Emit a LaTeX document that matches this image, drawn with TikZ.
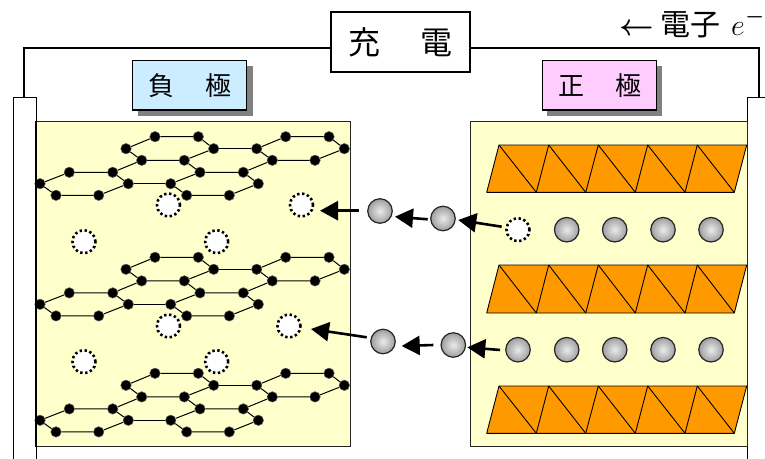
\documentclass[tikz,border=0pt]{standalone}
\usepackage{fix-cm}
\usepackage{fontspec}
\usetikzlibrary{arrows.meta,calc}
\newfontfamily\cjk{Noto Sans CJK JP}
\pgfdeclareradialshading{ballshade}{\pgfpoint{0bp}{0bp}}{%
  color(0bp)=(white!92!black);
  color(25bp)=(black!38);
  color(50bp)=(black!38)}
\tikzset{
  wire/.style={line width=1.3pt,draw=black},
  plate/.style={draw=black,line width=1.2pt,fill=white,rectangle,inner sep=0pt,anchor=north west,minimum width=#1,minimum height=380pt},
  cellbox/.style={draw=black!85,line width=1.4pt,rectangle,inner sep=0pt,anchor=north west,minimum height=325pt,minimum width=#1},
  labelbox/.style={draw=black,line width=1.2pt,fill=#1,rectangle,inner sep=0pt,minimum width=114pt,minimum height=49.5pt,font=\cjk\fontsize{26}{26}\selectfont},
  shadowbox/.style={fill=black!50,rectangle,inner sep=0pt,minimum width=115pt,minimum height=50pt},
  atom/.style={circle,fill=black,draw=black!60,line width=.5pt,inner sep=0pt,minimum size=10.5pt},
  bond/.style={line width=1pt,draw=black},
  hole/.style={circle,fill=white,draw=black,line width=2.6pt,dash pattern=on 2.4pt off 2.6pt,inner sep=0pt,minimum size=23pt},
  ball/.style={circle,shading=ballshade,draw=black!85,line width=1.2pt,inner sep=0pt,minimum size=24.5pt},
  flow/.style={line width=2.6pt,draw=black,-{Triangle[length=18pt,width=19pt]}},
  sheetline/.style={line width=.9pt,draw=black,line join=round},
}
\definecolor{oxide}{HTML}{FF9900}
\definecolor{cellyellow}{HTML}{FFFFCC}
\definecolor{negblue}{HTML}{CCECFF}
\definecolor{pospink}{HTML}{FFCCFF}
\begin{document}
\begin{tikzpicture}[x=1pt,y=-1pt]
\useasboundingbox (0,0) rectangle (765,458);
\clip (0,0) rectangle (765,458);
% plates
\node[plate=23.5pt] (plateL) at (12.5,97) {};
\node[plate=30pt] (plateR) at (747,97) {};
% cell boxes
\node[cellbox=313.5pt,fill=cellyellow] (cellL) at (36,121) {};
\node[cellbox=277pt,fill=cellyellow] (cellR) at (470,121) {};
% charger
\node[draw=black,line width=1.2pt,fill=white,rectangle,inner sep=0pt,minimum width=139pt,minimum height=60pt,font=\cjk\fontsize{32}{32}\selectfont] (charger) at (400.5,42) {充　\kern9pt電};
\coordinate (wireL) at (24,97);
\coordinate (wireR) at (759,97);
\draw[wire] (charger.west |- 0,48) -| (wireL);
\draw[wire] (charger.east |- 0,48) -| (wireR);
\node[anchor=base west,inner sep=0pt,font=\cjk\fontsize{30}{30}\selectfont] (electron) at (619.5,35) {{\boldmath$\leftarrow$}\kern6pt電子\kern11pt$e$\kern0.5pt\raisebox{13pt}{\fontsize{21}{21}\selectfont\boldmath$-$}};
% electrode labels
\node[shadowbox] (negS) at (195,90.5) {};
\node[shadowbox] (posS) at (604.5,90.5) {};
\node[labelbox=negblue] (neg) at (189.7,85.2) {負　\kern5pt極};
\node[labelbox=pospink] (pos) at (599.5,85.2) {正　\kern5pt極};
% graphite layers
\foreach \g/\d in {1/0,2/120.6,3/236.6}{
  \foreach \n/\x/\y in {a1/126/148.7,a2/155/136.7,a3/198.3/136.7,a4/213.7/148.7,a5/184.3/160.3,a6/141.7/160.3,
                        b1/256.7/148.7,b2/285.7/136.7,b3/329/136.7,b4/344.3/148.7,b5/315/160.3,b6/272.3/160.3,
                        c1/40/183.7,c2/69.3/172.3,c3/112.7/172.3,c4/128.3/183.7,c5/98.7/195.3,c6/56/195.3,
                        d1/170.7/183.7,d2/200/172.3,d3/243.3/172.3,d4/258.3/183.7,d5/229.3/195.3,d6/186.7/195.3}{
    \node[atom] (g\g\n) at (\x,\y+\d) {};
  }
  \foreach \h in {a,b,c,d}{
    \draw[bond] (g\g\h1)--(g\g\h2)--(g\g\h3)--(g\g\h4)--(g\g\h5)--(g\g\h6)--(g\g\h1);
  }
  \draw[bond] (g\g a4)--(g\g b1);
  \draw[bond] (g\g c4)--(g\g d1);
  \draw[bond] (g\g c3)--(g\g a6);
  \draw[bond] (g\g a5)--(g\g d2);
  \draw[bond] (g\g d3)--(g\g b6);
}
% plate edge over the cut atoms
\draw[line width=1.4pt,draw=black] (cellL.north west)--(cellL.south west);
% vacant sites, negative side
\foreach \n/\x/\y in {h1/168.5/205,h2/301.5/205,h3/84/241.7,h4/216.7/241.7,h5/168.5/326,h6/289/326,h7/84/361.7,h8/216.7/361.7}{
  \node[hole] (\n) at (\x,\y) {};
}
% oxide sheets
\foreach \s/\t/\b in {1/145/192.3,2/265/313,3/386/433.3}{
  \fill[oxide] (499,\t)--(746.7,\t)--(734.3,\b)--(486.7,\b)--cycle;
  \draw[sheetline] (499,\t)--(746.7,\t)--(734.3,\b)--(486.7,\b)--cycle;
  \foreach \p/\q in {499/536.3,548.7/585.7,598.3/635.3,647.7/685,697.3/734.3}{
    \draw[sheetline] (\p,\t)--(\q,\b);
  }
  \foreach \p/\q in {548.7/536.3,598.3/585.7,647.7/635.3,697.3/685}{
    \draw[sheetline] (\p,\t)--(\q,\b);
  }
}
% positive side sites
\node[hole] (h9) at (518,229.7) {};
\foreach \i/\x in {2/566.7,3/614.7,4/663,5/711}{
  \node[ball] (u\i) at (\x,229.7) {};
}
\foreach \i/\x in {1/518,2/566.7,3/614.7,4/663,5/711}{
  \node[ball] (l\i) at (\x,349.7) {};
}
% moving ions
\node[ball] (m1) at (380,211) {};
\node[ball] (m2) at (443,218.5) {};
\node[ball] (m3) at (383,341.5) {};
\node[ball] (m4) at (453.3,345) {};
% arrows
\coordinate (t1) at (320,210.7); \coordinate (f1) at (358.5,210.7);
\coordinate (t2) at (395,216.7); \coordinate (f2) at (427.7,219.3);
\coordinate (t3) at (458.3,220); \coordinate (f3) at (501.7,226.7);
\coordinate (t4) at (311,329);   \coordinate (f4) at (366.7,337.3);
\coordinate (t5) at (401.7,346); \coordinate (f5) at (433.3,345);
\coordinate (t6) at (467.3,347.3); \coordinate (f6) at (500,350);
\foreach \i in {1,...,6}{ \draw[flow] (f\i)--(t\i); }
\end{tikzpicture}
\end{document}
